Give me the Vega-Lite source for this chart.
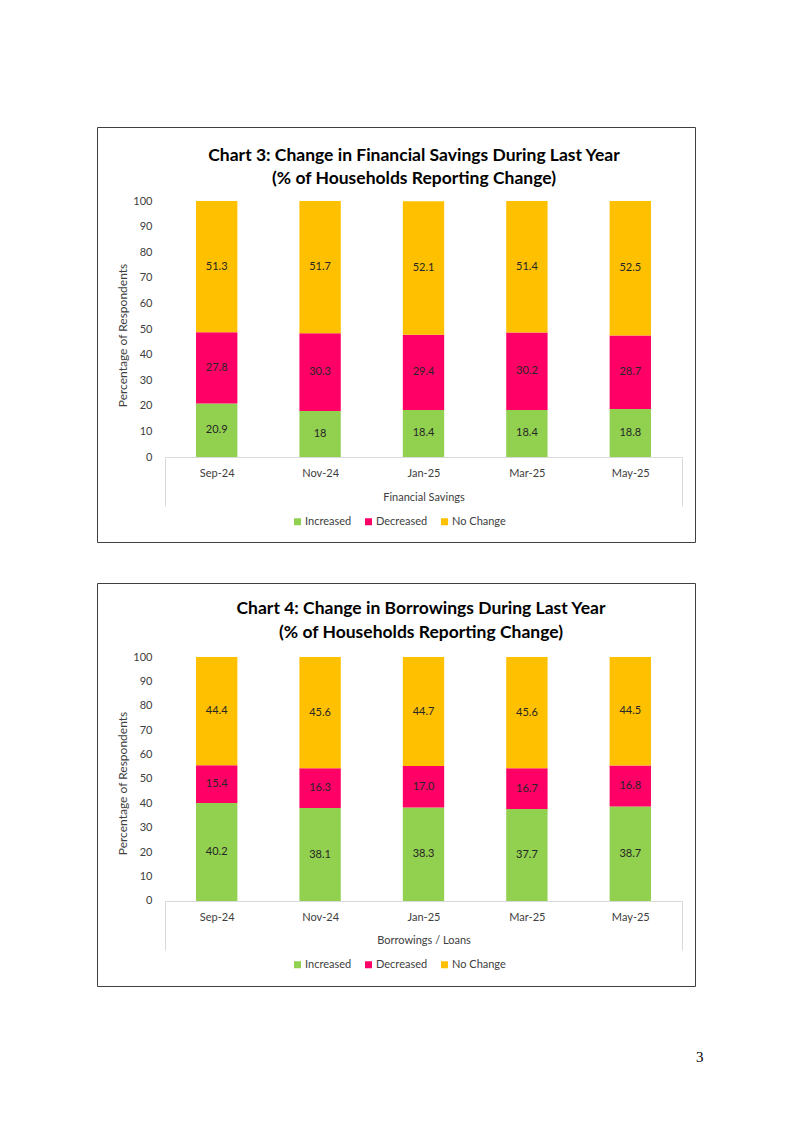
{
  "$schema": "https://vega.github.io/schema/vega-lite/v6.json",
  "background": "white",
  "padding": {"left": 96, "top": 126, "right": 0, "bottom": 0},
  "autosize": {"type": "pad"},
  "spacing": 39,
  "resolve": {"scale": {"color": "independent"}, "legend": {"color": "independent"}},
  "title": {"text": "3", "orient": "bottom", "anchor": "end", "font": "Liberation Serif", "fontSize": 15, "fontWeight": "normal", "color": "#000000", "offset": 63, "dx": 8},
  "config": {
    "font": "Lato",
    "view": {"stroke": "#404040", "strokeWidth": 1},
    "axis": {"labelFont": "Lato", "titleFont": "Lato"},
    "legend": {"labelFont": "Lato"}
  },
  "datasets": {
    "savings": [
      {"month": "Sep-24", "series": "Increased", "value": 20.9},
      {"month": "Sep-24", "series": "Decreased", "value": 27.8},
      {"month": "Sep-24", "series": "No Change", "value": 51.3},
      {"month": "Nov-24", "series": "Increased", "value": 18},
      {"month": "Nov-24", "series": "Decreased", "value": 30.3},
      {"month": "Nov-24", "series": "No Change", "value": 51.7},
      {"month": "Jan-25", "series": "Increased", "value": 18.4},
      {"month": "Jan-25", "series": "Decreased", "value": 29.4},
      {"month": "Jan-25", "series": "No Change", "value": 52.1},
      {"month": "Mar-25", "series": "Increased", "value": 18.4},
      {"month": "Mar-25", "series": "Decreased", "value": 30.2},
      {"month": "Mar-25", "series": "No Change", "value": 51.4},
      {"month": "May-25", "series": "Increased", "value": 18.8},
      {"month": "May-25", "series": "Decreased", "value": 28.7},
      {"month": "May-25", "series": "No Change", "value": 52.5}
    ],
    "borrow": [
      {"month": "Sep-24", "series": "Increased", "value": 40.2},
      {"month": "Sep-24", "series": "Decreased", "value": 15.4},
      {"month": "Sep-24", "series": "No Change", "value": 44.4},
      {"month": "Nov-24", "series": "Increased", "value": 38.1},
      {"month": "Nov-24", "series": "Decreased", "value": 16.3},
      {"month": "Nov-24", "series": "No Change", "value": 45.6},
      {"month": "Jan-25", "series": "Increased", "value": 38.3},
      {"month": "Jan-25", "series": "Decreased", "value": 17.0},
      {"month": "Jan-25", "series": "No Change", "value": 44.7},
      {"month": "Mar-25", "series": "Increased", "value": 37.7},
      {"month": "Mar-25", "series": "Decreased", "value": 16.7},
      {"month": "Mar-25", "series": "No Change", "value": 45.6},
      {"month": "May-25", "series": "Increased", "value": 38.7},
      {"month": "May-25", "series": "Decreased", "value": 16.8},
      {"month": "May-25", "series": "No Change", "value": 44.5}
    ]
  },
  "vconcat": [
    {
      "data": {"name": "savings"},
      "width": 598,
      "height": 415,
      "title": {"text": ["Chart 3: Change in Financial Savings During Last Year", "(% of Households Reporting Change)"], "orient": "top", "anchor": "middle", "frame": "group", "offset": -60, "dx": 18, "fontSize": 17.5, "fontWeight": "bold", "font": "Lato", "color": "#000000", "lineHeight": 23},
      "transform": [{"calculate": "indexof(['Increased','Decreased','No Change'], datum.series)", "as": "k"}],
      "encoding": {
        "x": {"field": "month", "type": "nominal", "sort": null,
          "scale": {"range": [68, 585], "paddingInner": 0, "paddingOuter": 0},
          "axis": {"orient": "bottom", "offset": -85, "domainColor": "#d9d9d9", "domainWidth": 1, "tickBand": "extent", "tickSize": 49, "tickColor": "#d9d9d9", "tickOpacity": {"condition": {"test": "datum.index == -1 || datum.index == 1", "value": 1}, "value": 0}, "labelPadding": -39, "labelAngle": 0, "labelFontSize": 11, "labelColor": "#404040", "title": "Financial Savings", "titleFontSize": 11, "titleFontWeight": "normal", "titleColor": "#404040", "titleY": 40, "titleBaseline": "middle"}}
      },
      "layer": [
        {
          "mark": {"type": "bar", "width": {"band": 0.4}},
          "encoding": {
            "y": {"field": "value", "type": "quantitative", "stack": "zero",
              "scale": {"domain": [-33.2, 128.91], "nice": false, "zero": false},
              "axis": {"orient": "left", "offset": -55, "values": [0, 10, 20, 30, 40, 50, 60, 70, 80, 90, 100], "domain": false, "ticks": false, "tickSize": 0, "grid": false, "labelPadding": 0, "labelFontSize": 11, "labelColor": "#404040", "title": "Percentage of Respondents", "titleFontSize": 12, "titleFontWeight": "normal", "titleColor": "#404040", "titleX": -30, "titleY": 208, "titleBaseline": "middle", "titleAlign": "center"}},
            "color": {"field": "series", "type": "nominal", "sort": ["Increased", "Decreased", "No Change"],
              "scale": {"domain": ["Increased", "Decreased", "No Change"], "range": ["#92D050", "#FF0066", "#FFC000"]},
              "legend": {"orient": "none", "legendX": 195, "legendY": 389, "direction": "horizontal", "title": null, "symbolType": "square", "symbolSize": 49, "symbolStrokeWidth": 0, "labelFontSize": 11, "labelColor": "#404040", "labelOffset": 2, "columnPadding": 11}},
            "order": {"field": "k", "type": "quantitative"}
          }
        },
        {
          "mark": {"type": "text", "fontSize": 11, "font": "Lato", "color": "#262626"},
          "encoding": {
            "y": {"field": "value", "type": "quantitative", "stack": "zero", "bandPosition": 0.5,
              "scale": {"domain": [-33.2, 128.91], "nice": false, "zero": false},
              "axis": {"orient": "left", "offset": -55, "values": [0, 10, 20, 30, 40, 50, 60, 70, 80, 90, 100], "domain": false, "ticks": false, "tickSize": 0, "grid": false, "labelPadding": 0, "labelFontSize": 11, "labelColor": "#404040", "title": "Percentage of Respondents", "titleFontSize": 12, "titleFontWeight": "normal", "titleColor": "#404040", "titleX": -30, "titleY": 208, "titleBaseline": "middle", "titleAlign": "center"}},
            "detail": {"field": "series"},
            "order": {"field": "k", "type": "quantitative"},
            "text": {"field": "value", "type": "quantitative", "format": ".1~f"}
          }
        }
      ]
    },
    {
      "data": {"name": "borrow"},
      "width": 598,
      "height": 403,
      "title": {"text": ["Chart 4: Change in Borrowings During Last Year", "(% of Households Reporting Change)"], "orient": "top", "anchor": "middle", "frame": "group", "offset": -58, "dx": 25, "fontSize": 17.5, "fontWeight": "bold", "font": "Lato", "color": "#000000", "lineHeight": 24},
      "transform": [{"calculate": "indexof(['Increased','Decreased','No Change'], datum.series)", "as": "k"}],
      "encoding": {
        "x": {"field": "month", "type": "nominal", "sort": null,
          "scale": {"range": [68, 585], "paddingInner": 0, "paddingOuter": 0},
          "axis": {"orient": "bottom", "offset": -85, "domainColor": "#d9d9d9", "domainWidth": 1, "tickBand": "extent", "tickSize": 49, "tickColor": "#d9d9d9", "tickOpacity": {"condition": {"test": "datum.index == -1 || datum.index == 1", "value": 1}, "value": 0}, "labelPadding": -39, "labelAngle": 0, "labelFontSize": 11, "labelColor": "#404040", "title": "Borrowings / Loans", "titleFontSize": 11, "titleFontWeight": "normal", "titleColor": "#404040", "titleY": 39, "titleBaseline": "middle"}}
      },
      "layer": [
        {
          "mark": {"type": "bar", "width": {"band": 0.4}},
          "encoding": {
            "y": {"field": "value", "type": "quantitative", "stack": "zero",
              "scale": {"domain": [-34.84, 130.33], "nice": false, "zero": false},
              "axis": {"orient": "left", "offset": -55, "values": [0, 10, 20, 30, 40, 50, 60, 70, 80, 90, 100], "domain": false, "ticks": false, "tickSize": 0, "grid": false, "labelPadding": 0, "labelFontSize": 11, "labelColor": "#404040", "title": "Percentage of Respondents", "titleFontSize": 12, "titleFontWeight": "normal", "titleColor": "#404040", "titleX": -30, "titleY": 200, "titleBaseline": "middle", "titleAlign": "center"}},
            "color": {"field": "series", "type": "nominal", "sort": ["Increased", "Decreased", "No Change"],
              "scale": {"domain": ["Increased", "Decreased", "No Change"], "range": ["#92D050", "#FF0066", "#FFC000"]},
              "legend": {"orient": "none", "legendX": 195, "legendY": 376, "direction": "horizontal", "title": null, "symbolType": "square", "symbolSize": 49, "symbolStrokeWidth": 0, "labelFontSize": 11, "labelColor": "#404040", "labelOffset": 2, "columnPadding": 11}},
            "order": {"field": "k", "type": "quantitative"}
          }
        },
        {
          "mark": {"type": "text", "fontSize": 11, "font": "Lato", "color": "#262626"},
          "encoding": {
            "y": {"field": "value", "type": "quantitative", "stack": "zero", "bandPosition": 0.5,
              "scale": {"domain": [-34.84, 130.33], "nice": false, "zero": false},
              "axis": {"orient": "left", "offset": -55, "values": [0, 10, 20, 30, 40, 50, 60, 70, 80, 90, 100], "domain": false, "ticks": false, "tickSize": 0, "grid": false, "labelPadding": 0, "labelFontSize": 11, "labelColor": "#404040", "title": "Percentage of Respondents", "titleFontSize": 12, "titleFontWeight": "normal", "titleColor": "#404040", "titleX": -30, "titleY": 200, "titleBaseline": "middle", "titleAlign": "center"}},
            "detail": {"field": "series"},
            "order": {"field": "k", "type": "quantitative"},
            "text": {"field": "value", "type": "quantitative", "format": ".1f"}
          }
        }
      ]
    }
  ]
}
